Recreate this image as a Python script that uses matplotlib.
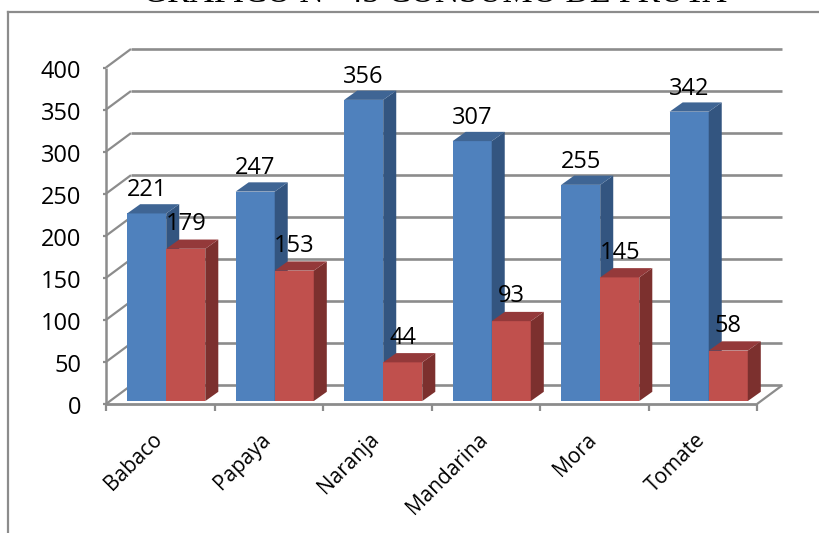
import matplotlib
matplotlib.use('Agg')
import matplotlib.pyplot as plt
from matplotlib.patches import Polygon

categories = ['Babaco', 'Papaya', 'Naranja', 'Mandarina', 'Mora', 'Tomate']
serie_azul = [221, 247, 356, 307, 255, 342]
serie_roja = [179, 153, 44, 93, 145, 58]
y_ticks = [0, 50, 100, 150, 200, 250, 300, 350, 400]

W, H = 819, 533
# floor depth of the 3D box and of the bars, in data units
wall_dx, wall_dy = 0.23, 22
bar_dx, bar_dy = 0.12, 11
base_y = 3.5
top_lift = 2
bar_w = 0.36
bar_x0 = 0.195

plt.rcParams['font.family'] = ['Open Sans', 'DejaVu Sans']

fig = plt.figure(figsize=(W / 100, H / 100), dpi=100)
ax = fig.add_axes([106 / W, 1 - 404 / H, 651 / W, 336.5 / H])
ax.set_xlim(0, 6)
ax.set_ylim(0, 400)
ax.axis('off')

grey = '#8c8c8c'


def line(xs, ys, lw=2.0, z=1):
    ax.plot(xs, ys, color=grey, lw=lw, clip_on=False, zorder=z, solid_capstyle='butt')


# walls, gridlines and ticks
for t in y_ticks:
    line([0, wall_dx], [t, t + wall_dy], 1.6)
    line([wall_dx, 6 + wall_dx], [t + wall_dy, t + wall_dy], 1.9)
    line([-0.03, 0], [t, t], 1.6)
    ax.text(-0.23, t - 5, str(t), ha='right', va='center', fontsize=17, color='black', clip_on=False)
line([0, 0], [0, 400], 1.8)
line([0, 6], [0, 0], 2.0)
line([6, 6 + wall_dx], [0, wall_dy], 1.6)
for i in range(7):
    line([i, i], [0, -8], 1.6)


def box(x, val, front, side, top, z):
    x1 = x + bar_w
    y1 = val + base_y + top_lift
    ax.add_patch(Polygon([(x, base_y), (x1, base_y), (x1, y1), (x, y1)],
                         fc=front, ec='none', zorder=z, clip_on=False))
    ax.add_patch(Polygon([(x1, base_y), (x1 + bar_dx, base_y + bar_dy), (x1 + bar_dx, y1 + bar_dy),
                          (x1, y1)], fc=side, ec='none', zorder=z, clip_on=False))
    ax.add_patch(Polygon([(x, y1), (x1, y1), (x1 + bar_dx, y1 + bar_dy),
                          (x + bar_dx, y1 + bar_dy)], fc=top, ec='none', zorder=z, clip_on=False))


for i, (a, r) in enumerate(zip(serie_azul, serie_roja)):
    x = i + bar_x0
    box(x, a, '#4f81bd', '#335580', '#3f6594', 3 + i * 2)
    box(x + bar_w, r, '#c0504d', '#7c302e', '#94393a', 4 + i * 2)

for i, (a, r) in enumerate(zip(serie_azul, serie_roja)):
    x = i + bar_x0
    ax.text(x + 0.18, a + 33, str(a), ha='center', va='center', fontsize=17, color='black', zorder=30, clip_on=False)
    ax.text(x + bar_w + 0.18, r + 35, str(r), ha='center', va='center', fontsize=17, color='black', zorder=30, clip_on=False)

# category labels, rotated, ending just under the tick interval
for i, c in enumerate(categories):
    ax.annotate(c, xy=(i + 0.5, 0), xytext=(-6, -18), textcoords='offset points', rotation=45, ha='right', va='top',
                rotation_mode='anchor', fontsize=15, color='black', annotation_clip=False)

# chart frame, cut off by the page on the right and below
fig.add_artist(plt.Line2D([7.5 / W, 7.5 / W], [0, 1 - 12 / H], color=grey, lw=1.6))
fig.add_artist(plt.Line2D([7.5 / W, 1], [1 - 12 / H, 1 - 12 / H], color=grey, lw=1.6))

# title is cropped by the top of the image in the reference too
fig.text(435 / W, 1 + 6 / H, 'GRÁFICO N° 43 CONSUMO DE FRUTA', ha='center', va='center', fontsize=24.3,
         family='Liberation Serif', color='black')

fig.savefig('out.png', dpi=100)
